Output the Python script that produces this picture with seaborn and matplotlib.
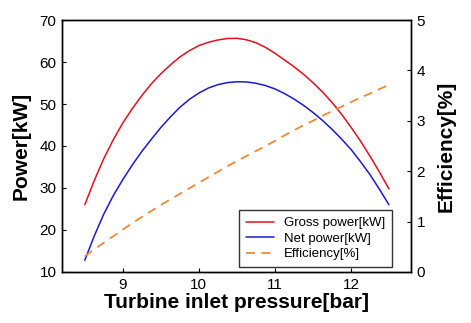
import matplotlib
matplotlib.use("Agg")
import matplotlib.pyplot as plt
import seaborn as sns
import pandas as pd

pressure = [8.5, 8.625, 8.75, 8.875, 9.0, 9.125, 9.25, 9.375, 9.5, 9.625,
            9.75, 9.875, 10.0, 10.125, 10.25, 10.375, 10.5, 10.625, 10.75,
            10.875, 11.0, 11.125, 11.25, 11.375, 11.5, 11.625, 11.75, 11.875,
            12.0, 12.125, 12.25, 12.375, 12.5]
gross_power = [26.0, 31.8, 37.0, 41.5, 45.5, 48.9, 52.0, 54.8, 57.2, 59.3,
               61.2, 62.7, 63.9, 64.7, 65.25, 65.6, 65.65, 65.3, 64.6,
               63.5, 62.1, 60.5, 58.9, 57.1, 55.1, 52.9, 50.4, 47.6,
               44.5, 41.2, 37.6, 33.8, 29.8]
net_power = [12.8, 18.6, 23.8, 28.2, 32.0, 35.5, 38.7, 41.6, 44.4, 46.9,
             49.2, 51.1, 52.6, 53.8, 54.6, 55.1, 55.3, 55.25, 54.95,
             54.4, 53.6, 52.5, 51.2, 49.7, 48.0, 46.1, 44.0, 41.7,
             39.2, 36.3, 33.2, 29.7, 26.0]
efficiency = [0.31, 0.45, 0.58, 0.71, 0.84, 0.97, 1.09, 1.21, 1.33, 1.44,
              1.55, 1.66, 1.77, 1.88, 1.99, 2.10, 2.20, 2.30, 2.40,
              2.50, 2.60, 2.71, 2.81, 2.91, 3.00, 3.10, 3.19, 3.28,
              3.37, 3.46, 3.54, 3.63, 3.71]

labels = ["Gross power[kW]", "Net power[kW]", "Efficiency[%]"]
x_label = "Turbine inlet pressure[bar]"
y_label = "Power[kW]"
y2_label = "Efficiency[%]"
x_ticks = [9, 10, 11, 12]
y_ticks = [10, 20, 30, 40, 50, 60, 70]
y2_ticks = [0, 1, 2, 3, 4, 5]

df = pd.DataFrame({"p": pressure, "g": gross_power, "n": net_power, "e": efficiency})

sns.set_style("ticks")
plt.rcParams["font.family"] = ["Liberation Sans", "DejaVu Sans"]
plt.rcParams["xtick.direction"] = "in"
plt.rcParams["ytick.direction"] = "in"
plt.rcParams["text.color"] = "black"
plt.rcParams["axes.labelcolor"] = "black"

fig = plt.figure(figsize=(4.71, 3.23), dpi=100)
ax = fig.add_axes([0.1316, 0.158, 0.741, 0.780])
ax2 = ax.twinx()

sns.lineplot(data=df, x="p", y="g", ax=ax, color="#e3101e", lw=1.1, label=labels[0], legend=False)
sns.lineplot(data=df, x="p", y="n", ax=ax, color="#1a1ad0", lw=1.1, label=labels[1], legend=False)
sns.lineplot(data=df, x="p", y="e", ax=ax2, color="#ee8a3a", lw=1.3,
             linestyle=(0, (5, 3.5)), label=labels[2], legend=False)

ax.set_xlim(8.2, 12.79)
ax.set_ylim(10, 70)
ax2.set_ylim(0, 5)
ax.set_xticks(x_ticks)
ax.set_yticks(y_ticks)
ax2.set_yticks(y2_ticks)

for a in (ax, ax2):
    for s in a.spines.values():
        s.set_linewidth(1.0)
        s.set_color("black")
    a.tick_params(length=3, width=0.8, labelsize=11, colors="black",
                  labelcolor="black", pad=4)

ax.set_xlabel(x_label, fontsize=15, fontweight="bold", labelpad=1, color="black")
ax.set_ylabel(y_label, fontsize=15, fontweight="bold", labelpad=6, color="black")
ax2.set_ylabel(y2_label, fontsize=15, fontweight="bold", labelpad=8, color="black")

h1, l1 = ax.get_legend_handles_labels()
h2, l2 = ax2.get_legend_handles_labels()
leg = ax2.legend(h1 + h2, l1 + l2, loc="lower right", bbox_to_anchor=(0.946, 0.02),
                 fontsize=9.5, frameon=True, fancybox=False, edgecolor="black",
                 handlelength=2.1, borderaxespad=0, labelspacing=0.25, borderpad=0.5)
leg.get_frame().set_linewidth(1.0)
for t in leg.get_texts():
    t.set_color("black")

fig.savefig("out.png", dpi=100)
